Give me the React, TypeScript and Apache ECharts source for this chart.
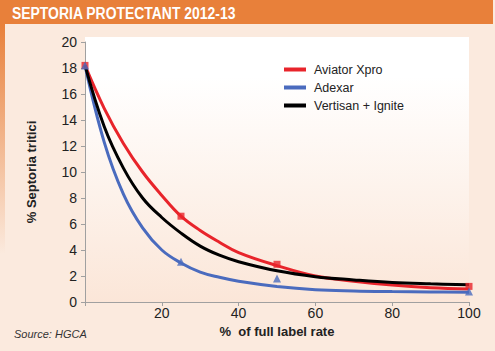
import React, { useEffect, useRef } from "react";
import * as echarts from "echarts";

const curveX = [0, 5, 10, 15, 20, 25, 30, 35, 40, 50, 60, 70, 80, 90, 100];
const aviatorCurve = [18.2, 14.9, 12.2, 10.0, 8.2, 6.6, 5.5, 4.6, 3.8, 2.8, 2.0, 1.6, 1.3, 1.1, 1.0];
const adexarCurve = [18.2, 12.3, 8.3, 5.7, 4.0, 3.0, 2.3, 1.9, 1.6, 1.2, 0.95, 0.85, 0.8, 0.77, 0.75];
const vertisanCurve = [18.2, 13.5, 10.3, 8.0, 6.5, 5.3, 4.3, 3.6, 3.1, 2.4, 1.95, 1.7, 1.5, 1.4, 1.33];

const markerX = [0, 25, 50, 100];
const aviatorPoints = [18.2, 6.6, 2.9, 1.2];
const adexarPoints = [18.2, 3.1, 1.8, 0.8];

const seriesNames = ["Aviator Xpro", "Adexar", "Vertisan + Ignite"];
const title = "SEPTORIA PROTECTANT 2012-13";
const yAxisName = "% Septoria tritici";
const xAxisName = "%  of full label rate";
const source = "Source: HGCA";

const RED = "#E8242B";
const BLUE = "#4A6BBE";
const BLACK = "#000000";
const BG = "#FBEADE";
const ORANGE = "#E8803A";
const FONT = '"Liberation Sans", Arial, sans-serif';

const pairs = (xs: number[], ys: number[]) => xs.map((x, i) => [x, ys[i]]);

export default function App() {
  const ref = useRef<HTMLDivElement>(null);
  useEffect(() => {
    if (!ref.current) return;
    const chart = echarts.init(ref.current, undefined, { renderer: "svg" });
    chart.setOption({
      animation: false,
      backgroundColor: BG,
      textStyle: { fontFamily: FONT },
      graphic: [
        {
          type: "rect",
          z: -10,
          shape: { x: 0, y: 0, width: 493, height: 24 },
          style: { fill: ORANGE },
        },
        {
          type: "rect",
          z: -10,
          shape: { x: 0, y: 24, width: 5, height: 230 },
          style: {
            fill: new echarts.graphic.LinearGradient(0, 0, 0, 1, [
              { offset: 0, color: ORANGE },
              { offset: 1, color: BG },
            ]),
          },
        },
        {
          type: "rect",
          z: -10,
          shape: { x: 85, y: 37, width: 384, height: 265 },
          style: {
            fill: new echarts.graphic.LinearGradient(0, 0, 0, 1, [
              { offset: 0, color: "#FFFFFF" },
              { offset: 0.15, color: "#FFFFFF" },
              { offset: 1, color: "#FBE6D8" },
            ]),
          },
        },
        {
          type: "text",
          x: 12,
          y: 13,
          scaleX: 0.82,
          style: {
            text: title,
            x: 0,
            y: 0,
            verticalAlign: "middle",
            font: 'bold 17px "Liberation Sans", Arial, sans-serif',
            fill: "#FFFFFF",
          },
        },
        {
          type: "text",
          x: 14,
          y: 334,
          style: {
            text: source,
            verticalAlign: "middle",
            font: 'italic 11px "Liberation Sans", Arial, sans-serif',
            fill: "#333333",
          },
        },
      ],
      grid: { left: 85, right: 26, top: 42, bottom: 49 },
      legend: {
        data: seriesNames,
        orient: "vertical",
        left: 284,
        top: 63,
        padding: 0,
        itemWidth: 22,
        itemHeight: 4,
        itemGap: 5,
        icon: "rect",
        textStyle: { fontSize: 12.5, color: "#222222", padding: [0, 0, 0, 3] },
      },
      xAxis: {
        type: "value",
        min: 0,
        max: 100,
        interval: 20,
        name: xAxisName,
        nameLocation: "middle",
        nameGap: 23,
        nameTextStyle: { fontSize: 13, fontWeight: "bold", color: "#222222" },
        axisLine: { lineStyle: { color: "#A0A0A0", width: 1 } },
        axisTick: { show: true, length: 4, lineStyle: { color: "#A0A0A0" } },
        axisLabel: {
          fontSize: 14,
          color: "#222222",
          margin: 4,
          formatter: (v: number) => (v === 0 ? "" : String(v)),
        },
        splitLine: { show: false },
      },
      yAxis: {
        type: "value",
        min: 0,
        max: 20,
        interval: 2,
        name: yAxisName,
        nameLocation: "middle",
        nameGap: 47,
        nameTextStyle: { fontSize: 13, fontWeight: "bold", color: "#222222" },
        axisLine: { show: true, lineStyle: { color: "#A0A0A0", width: 1 } },
        axisTick: { show: true, length: 4, lineStyle: { color: "#A0A0A0" } },
        axisLabel: { fontSize: 14, color: "#222222", margin: 8 },
        splitLine: { show: false },
      },
      series: [
        {
          name: seriesNames[0],
          type: "line",
          data: pairs(curveX, aviatorCurve),
          smooth: 0.4,
          showSymbol: false,
          lineStyle: { color: RED, width: 3 },
          itemStyle: { color: RED },
          z: 3,
        },
        {
          name: seriesNames[1],
          type: "line",
          data: pairs(curveX, adexarCurve),
          smooth: 0.4,
          showSymbol: false,
          lineStyle: { color: BLUE, width: 3 },
          itemStyle: { color: BLUE },
          z: 3,
        },
        {
          name: seriesNames[2],
          type: "line",
          data: pairs(curveX, vertisanCurve),
          smooth: 0.4,
          showSymbol: false,
          lineStyle: { color: BLACK, width: 3 },
          itemStyle: { color: BLACK },
          z: 4,
        },
        {
          name: "Aviator Xpro points",
          type: "scatter",
          data: pairs(markerX, aviatorPoints),
          symbol: "rect",
          symbolSize: 7,
          itemStyle: { color: RED },
          z: 5,
        },
        {
          name: "Adexar points",
          type: "scatter",
          data: pairs(markerX, adexarPoints),
          symbol: "triangle",
          symbolSize: 8,
          itemStyle: { color: BLUE },
          z: 6,
        },
      ],
    });
    return () => chart.dispose();
  }, []);
  return (
    <div
      ref={ref}
      style={{ position: "absolute", left: 0, top: 0, width: 495, height: 351 }}
    />
  );
}
